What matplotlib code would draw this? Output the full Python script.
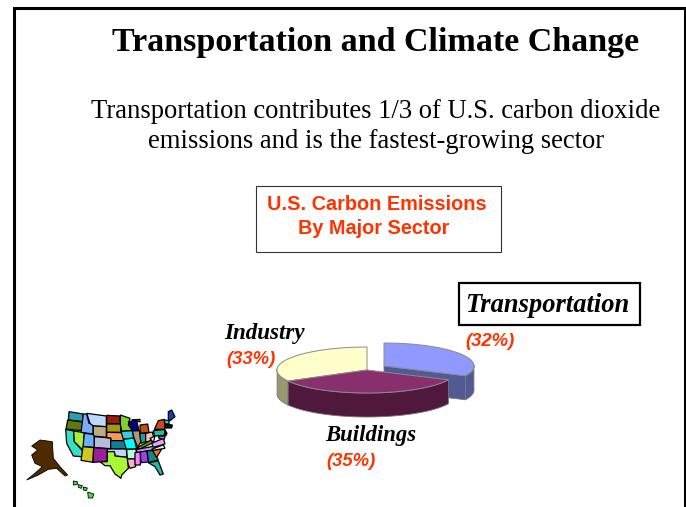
import numpy as np
import matplotlib
matplotlib.use("Agg")
import matplotlib.pyplot as plt
from matplotlib.patches import Rectangle

W, H = 686, 507

sectors = ["Transportation", "Buildings", "Industry"]
shares = [32, 35, 33]
share_labels = ["(32%)", "(35%)", "(33%)"]
top_colors = ["#9099ff", "#8a2f6d", "#ffffcc"]
side_colors = ["#525a96", "#4f183c", "#98986f"]

title = "Transportation and Climate Change"
subtitle = ["Transportation contributes 1/3 of U.S. carbon dioxide",
            "emissions and is the fastest-growing sector"]
box_title = ["U.S. Carbon Emissions", "By Major Sector"]

states = [
    ("#2a9db0", [(162,35),(205,42),(205,65),(160,60)]),  # WA
    ("#5c7a10", [(158,60),(205,66),(200,92),(153,87)]),  # OR
    ("#35e0c8", [(152,88),(176,93),(178,125),(205,155),(200,170),(175,168),(155,130)]),  # CA
    ("#a8f040", [(176,93),(208,98),(205,152),(178,125)]),  # NV
    ("#7fa8ff", [(205,42),(215,42),(222,70),(235,72),(234,102),(198,97)]),  # ID
    ("#c0d8ff", [(215,40),(274,48),(274,80),(235,78),(225,70)]),  # MT
    ("#c0aa80", [(235,78),(274,80),(274,112),(235,108)]),  # WY
    ("#6ab0ff", [(208,100),(234,103),(238,110),(238,142),(204,140)]),  # UT
    ("#b8bcd8", [(238,110),(287,114),(287,146),(238,143)]),  # CO
    ("#d0c820", [(204,140),(236,143),(234,187),(198,181)]),  # AZ
    ("#9b1f9b", [(236,143),(277,146),(277,184),(234,187)]),  # NM
    ("#9c1a10", [(275,46),(315,48),(316,72),(275,72)]),  # ND
    ("#a09a18", [(275,72),(316,72),(318,97),(275,97)]),  # SD
    ("#ff9850", [(275,97),(322,98),(327,122),(288,122),(288,114),(275,113)]),  # NE
    ("#108098", [(287,122),(330,122),(334,147),(287,147)]),  # KS
    ("#c0d4ff", [(277,147),(334,147),(336,172),(300,168),(298,155),(277,155)]),  # OK
    ("#a8f838", [(277,155),(298,155),(300,168),(337,172),(340,205),(320,225),(318,235),
                 (300,222),(285,197),(270,197),(255,185),(277,185)]),  # TX
    ("#7fd030", [(316,45),(345,55),(340,75),(352,92),(320,94),(316,72)]),  # MN
    ("#40c8e0", [(318,94),(352,92),(357,114),(325,118)]),  # IA
    ("#00ffff", [(325,118),(357,114),(365,147),(334,148)]),  # MO
    ("#b0ffd8", [(335,148),(365,147),(360,177),(337,177)]),  # AR
    ("#ffb0c8", [(337,177),(360,177),(362,200),(345,205),(340,195)]),  # LA
    ("#000090", [(340,65),(365,62),(372,92),(352,92)]),  # WI
    ("#b09878", [(352,93),(374,92),(378,125),(368,142),(357,114)]),  # IL
    ("#18a0a0", [(374,100),(392,100),(392,125),(378,130)]),  # IN
    ("#ffc0b0", [(392,100),(412,96),(417,115),(402,125),(392,125)]),  # OH
    ("#c05010", [(375,75),(398,72),(402,97),(376,100)]),  # MI
    ("#c05010", [(350,60),(375,58),(375,66),(362,62)]),  # UP
    ("#60a000", [(365,144),(408,120),(414,128),(375,147)]),  # KY
    ("#d090ff", [(362,149),(420,138),(442,132),(425,148),(368,158)]),  # TN
    ("#ff80ff", [(360,158),(376,156),(376,195),(360,195)]),  # MS
    ("#a040f0", [(376,156),(396,153),(401,186),(378,188)]),  # AL
    ("#108888", [(396,153),(415,151),(430,180),(401,188)]),  # GA
    ("#20b8a8", [(400,188),(430,183),(445,222),(435,225),(420,200)]),  # FL
    ("#ff7020", [(412,151),(440,147),(425,172)]),  # SC
    ("#d0ffb8", [(410,148),(445,134),(450,145),(415,151)]),  # NC
    ("#e0a0ff", [(410,130),(445,115),(450,132),(415,142)]),  # VA
    ("#d8f0ff", [(405,115),(420,108),(415,128)]),  # WV
    ("#20c0a0", [(415,92),(450,88),(448,106),(418,108)]),  # PA
    ("#d04818", [(418,88),(430,62),(448,58),(450,75),(448,88)]),  # NY
    ("#1040c0", [(460,35),(470,30),(480,50),(465,62),(460,60)]),  # ME
    ("#20d8ff", [(448,60),(462,62),(462,72),(450,72)]),  # NH VT
    ("#101010", [(450,72),(472,75),(470,84),(450,84)]),  # MA CT
    ("#e040c0", [(450,90),(456,100),(452,108)]),  # NJ
    ("#b060e0", [(430,108),(450,108),(448,118),(432,115)]),  # MD
]
alaska = [(75,120),(112,125),(115,175),(135,200),(158,225),(150,228),(125,205),(100,208),
          (70,225),(35,240),(62,218),(82,200),(60,190),(50,165),(68,150),(50,138)]
hawaii = [[(175,243),(187,245),(187,254),(175,255)], [(190,254),(202,257),(199,265),(190,262)],
          [(205,261),(217,264),(214,272),(205,270)], [(218,276),(236,282),(233,294),(220,294)]]


def map_xy(pts):
    # crop coords back to picture pixels
    p = np.array(pts, dtype=float)
    return 15 + p[:, 0] / 3, 400 + p[:, 1] / 3


def arc(cx, cy, rx, ry, a0, a1):
    # a0 to a1 in degrees, picture y points down
    t = np.radians(np.linspace(a0, a1, 80))
    return cx + rx * np.cos(t), cy - ry * np.sin(t)


def draw_pie(cx, cy, rx, ry, depth):
    start = 90.0
    wedges = []
    for i, s in enumerate(shares):
        end = start - s * 3.6
        wedges.append((i, start, end))
        start = end
    # back slices first so the front one sits on top
    for i, a0, a1 in [wedges[2], wedges[0], wedges[1]]:
        ox, oy = (17, -4) if i == 0 else (0, 0)
        x, y = arc(cx + ox, cy + oy, rx, ry, a0, a1)
        # outer wall
        lower = np.sin(np.radians(np.linspace(a0, a1, 80))) <= 0.05
        wx, wy = x[lower], y[lower]
        ax.fill(np.r_[wx, wx[::-1]], np.r_[wy, wy[::-1] + depth],
                color=side_colors[i], ec="#777777", lw=0.6, zorder=3)
        if i == 0:
            # cut face of the pulled out slice
            ax.fill([cx + ox, x[-1], x[-1], cx + ox],
                    [cy + oy, y[-1], y[-1] + depth, cy + oy + depth],
                    color=side_colors[0], ec="#777777", lw=0.6, zorder=3)
        ax.fill(np.r_[cx + ox, x], np.r_[cy + oy, y], color=top_colors[i],
                ec="#8a8a8a", lw=0.7, zorder=4)


fig = plt.figure(figsize=(W / 100, H / 100), dpi=100)
ax = fig.add_axes([0, 0, 1, 1])
ax.set_xlim(0, W)
ax.set_ylim(H, 0)
ax.axis("off")
serif = "Liberation Serif"
sans = "Liberation Sans"
red = "#ff3300"

# slide frame, open at the bottom
ax.plot([14, 14, 684.5, 684.5], [H, 8, 8, H], color="black", lw=2.2, solid_joinstyle="miter")

ax.text(376, 42.5, title, family=serif, weight="bold", fontsize=24.5, ha="center", va="center")
ax.text(376, 111, subtitle[0], family=serif, fontsize=19.2, ha="center", va="center")
ax.text(376, 141, subtitle[1], family=serif, fontsize=19.2, ha="center", va="center")

ax.add_patch(Rectangle((255.5, 185.5), 245, 66, fc="white", ec="#333333", lw=0.8))
ax.text(376.5, 205, box_title[0], family=sans, weight="bold", color=red, fontsize=14.3, ha="center", va="center")
ax.text(373.5, 229, box_title[1], family=sans, weight="bold", color=red, fontsize=14.3, ha="center", va="center")

draw_pie(367, 370, 90, 23, 24)

ax.add_patch(Rectangle((459, 283), 181, 42, fc="white", ec="black", lw=1.6))
ax.text(547.5, 305, sectors[0], family=serif, style="italic", weight="bold", fontsize=19.1, ha="center", va="center")
ax.text(490, 342, share_labels[0], family=sans, style="italic", weight="bold", color=red, fontsize=13.3, ha="center", va="center")
ax.text(371, 435, sectors[1], family=serif, style="italic", weight="bold", fontsize=16.4, ha="center", va="center")
ax.text(351, 461, share_labels[1], family=sans, style="italic", weight="bold", color=red, fontsize=13.3, ha="center", va="center")
ax.text(264.5, 333, sectors[2], family=serif, style="italic", weight="bold", fontsize=16.6, ha="center", va="center")
ax.text(251, 359, share_labels[2], family=sans, style="italic", weight="bold", color=red, fontsize=13.3, ha="center", va="center")

# little US map
for c, pts in states:
    ax.fill(*map_xy(pts), color=c, ec="black", lw=0.9, zorder=2)
ax.fill(*map_xy(alaska), color="#4f2a00", ec="black", lw=0.6, zorder=2)
for pts in hawaii:
    ax.fill(*map_xy(pts), color="#40e040", ec="black", lw=0.6, zorder=2)

fig.savefig("out.png", dpi=100)
